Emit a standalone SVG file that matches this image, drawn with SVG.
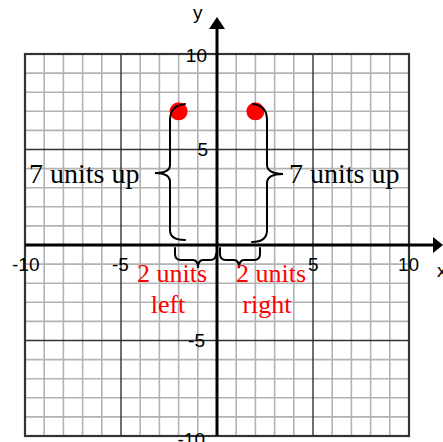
<svg xmlns="http://www.w3.org/2000/svg" width="443" height="442" viewBox="0 0 443 442">
<style>
.minor{stroke:#b3b3b3;stroke-width:1.6;fill:none}
.major{stroke:#333;stroke-width:1.4;fill:none}
.border{stroke:#333;stroke-width:2.2;fill:none}
.axis{stroke:#000;stroke-width:3;fill:none}
.brace{stroke:#000;stroke-width:2;fill:none;stroke-linecap:round}
.tick{font-family:"Liberation Sans",Arial,sans-serif;font-size:19px;fill:#000}
.blk{font-family:"Liberation Serif","Times New Roman",serif;font-size:28px;fill:#000}
.red{font-family:"Liberation Serif","Times New Roman",serif;font-size:26px;fill:#ff0000}
</style>
<rect width="443" height="442" fill="#fff"/>
<g id="grid">
<path class="minor" d="M44.2,54V436M63.4,54V436M82.6,54V436M101.8,54V436M140.2,54V436M159.4,54V436M178.6,54V436M197.8,54V436M236.2,54V436M255.4,54V436M274.6,54V436M293.8,54V436M332.2,54V436M351.4,54V436M370.6,54V436M389.8,54V436M25,73.1H409M25,92.2H409M25,111.3H409M25,130.4H409M25,168.6H409M25,187.7H409M25,206.8H409M25,225.9H409M25,264.1H409M25,283.2H409M25,302.3H409M25,321.4H409M25,359.6H409M25,378.7H409M25,397.8H409M25,416.9H409"/>
<path class="major" d="M121,54V436M313,54V436M25,149.5H409M25,340.5H409"/>
<rect class="border" x="25" y="54" width="384" height="382"/>
</g>
<g id="axes">
<path class="axis" d="M25,245H434M217,436V28"/>
<polygon points="433,237 443,245 433,253" fill="#000"/>
<polygon points="209,29 217,17 225,29" fill="#000"/>
<text class="tick" x="193" y="19">y</text>
<text class="tick" x="437" y="277">x</text>
</g>
<g id="tick-labels">
<text class="tick" x="207" y="62" text-anchor="end">10</text>
<text class="tick" x="208" y="156" text-anchor="end">5</text>
<text class="tick" x="205" y="347" text-anchor="end">-5</text>
<text class="tick" x="205" y="446" text-anchor="end">-10</text>
<text class="tick" x="12" y="271">-10</text>
<text class="tick" x="112" y="271">-5</text>
<text class="tick" x="308" y="271">5</text>
<text class="tick" x="398" y="271">10</text>
</g>
<g id="point-left">
<circle cx="178.6" cy="111.3" r="9" fill="#ff0000"/>
</g>
<g id="point-right">
<circle cx="255.4" cy="111.3" r="9" fill="#ff0000"/>
</g>
<g id="connectors">
<path class="brace" d="M185,104C176,105 170,110 170,120L170,165C170,170 165,173 155,173C165,173 170,176 170,182L170,230C170,237 176,240 185,240"/>
<path class="brace" d="M253,104C262,105 267,110 267,120L267,165C267,170 272,174 283,174C272,174 267,177 267,183L267,230C267,238 262,242 252,242"/>
<path class="brace" d="M175,248L175,254Q175,260 181,260L193,260Q198,260 198,268Q198,260 203,260L210,260Q216,260 216,254"/>
<path class="brace" d="M220,248L220,254Q220,260 226,260L234,260Q239,260 239,268Q239,260 244,260L254,260Q260,260 260,254L260,248"/>
</g>
<g id="label-up-left"><text class="blk" x="29" y="183">7 units up</text></g>
<g id="label-up-right"><text class="blk" x="289" y="183">7 units up</text></g>
<g id="label-left">
<text class="red" x="172" y="282" text-anchor="middle">2 units</text>
<text class="red" x="168" y="313" text-anchor="middle">left</text>
</g>
<g id="label-right">
<text class="red" x="271" y="282" text-anchor="middle">2 units</text>
<text class="red" x="267" y="313" text-anchor="middle">right</text>
</g>
</svg>
